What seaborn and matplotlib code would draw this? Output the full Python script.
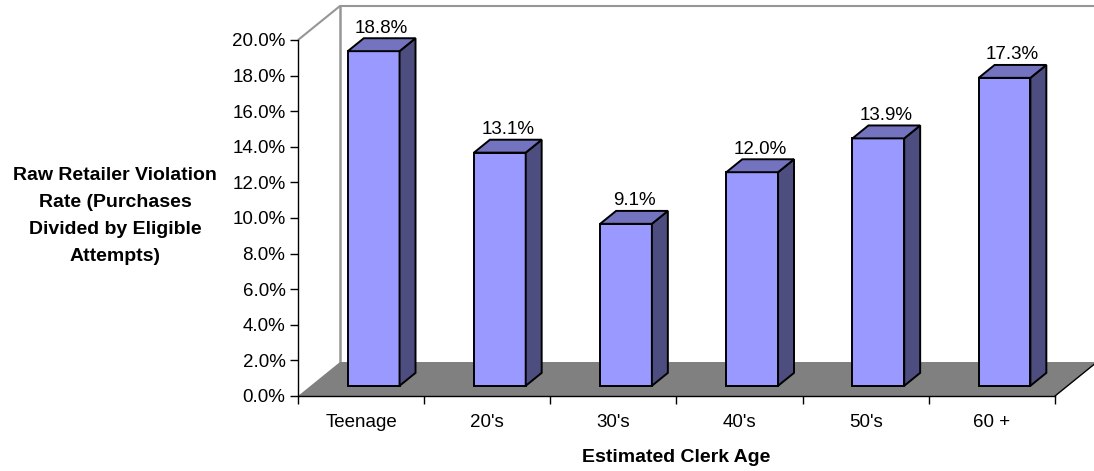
import numpy as np
import pandas as pd
import matplotlib
matplotlib.use("Agg")
import matplotlib.pyplot as plt
import seaborn as sns
from matplotlib.patches import Polygon

# Data
ages = ["Teenage", "20's", "30's", "40's", "50's", "60 +"]
rates = [18.8, 13.1, 9.1, 12.0, 13.9, 17.3]
y_ticks = [0, 2, 4, 6, 8, 10, 12, 14, 16, 18, 20]

FRONT = "#9999FF"
TOP = "#7373C0"
SIDE = "#4D4D80"
FLOOR = "#808080"
WALL_LINE = "#969696"

sns.set_theme(style="white")
plt.rcParams["font.family"] = ["Liberation Sans", "DejaVu Sans"]
plt.rcParams["text.color"] = "black"
plt.rcParams["xtick.color"] = "black"
plt.rcParams["ytick.color"] = "black"
plt.rcParams["xtick.labelcolor"] = "black"
plt.rcParams["ytick.labelcolor"] = "black"

fig = plt.figure(figsize=(10.94, 4.71), dpi=100)
ax = fig.add_axes([298 / 1094, 75 / 471, 757 / 1094, 356 / 471])
ax.patch.set_alpha(0)

df = pd.DataFrame({"age": ages, "rate": rates})
sns.barplot(data=df, x="age", y="rate", width=0.41, color=FRONT, saturation=1,
            edgecolor="black", linewidth=1.4, ax=ax, zorder=5)
ax.set_xlim(-0.5, 5.5)
ax.set_ylim(0, 20)

# depth vector of the 3-D box, in pixels, converted to data units
p0 = ax.transData.transform((0, 0))
ddx, ddy = ax.transData.inverted().transform(p0 + np.array([42.0, 34.0]))
f0, f1 = 0.30, 0.68          # front / back depth of the bars
fm = 0.5 * (f0 + f1)

def add_poly(pts, **kw):
    poly = Polygon(pts, closed=True, clip_on=False, **kw)
    ax.add_patch(poly)
    return poly

x_lo, x_hi = ax.get_xlim()
y_lo, y_hi = ax.get_ylim()

# back wall and side wall
add_poly([(x_lo + ddx, y_lo + ddy), (x_hi + ddx, y_lo + ddy),
          (x_hi + ddx, y_hi + ddy), (x_lo + ddx, y_hi + ddy)],
         facecolor="white", edgecolor="none", zorder=1)
add_poly([(x_lo, y_lo), (x_lo, y_hi), (x_lo + ddx, y_hi + ddy), (x_lo + ddx, y_lo + ddy)],
         facecolor="white", edgecolor="none", zorder=1)
ax.plot([x_lo, x_lo + ddx, x_hi + ddx], [y_hi, y_hi + ddy, y_hi + ddy],
        color=WALL_LINE, lw=1.5, clip_on=False, zorder=2, solid_capstyle="butt")
ax.plot([x_lo + ddx, x_lo + ddx], [y_lo + ddy, y_hi + ddy],
        color=WALL_LINE, lw=1.8, clip_on=False, zorder=2)

# floor
add_poly([(x_lo, y_lo), (x_hi, y_lo), (x_hi + ddx, y_lo + ddy), (x_lo + ddx, y_lo + ddy)],
         facecolor=FLOOR, edgecolor="none", zorder=3)
ax.plot([x_hi, x_hi + ddx], [y_lo, y_lo + ddy], color="black", lw=1.0,
        clip_on=False, zorder=3)

# 3-D bars: shift front faces back, then add side and top faces
for patch, val in zip(ax.patches[:len(rates)], rates):
    x0 = patch.get_x()
    w = patch.get_width()
    h = patch.get_height()
    x1 = x0 + w
    patch.set_x(x0 + f0 * ddx)
    patch.set_y(f0 * ddy)
    patch.set_clip_on(False)
    add_poly([(x1 + f0 * ddx, f0 * ddy), (x1 + f1 * ddx, f1 * ddy),
              (x1 + f1 * ddx, h + f1 * ddy), (x1 + f0 * ddx, h + f0 * ddy)],
             facecolor=SIDE, edgecolor="black", linewidth=1.4, joinstyle="miter", zorder=5)
    add_poly([(x0 + f0 * ddx, h + f0 * ddy), (x1 + f0 * ddx, h + f0 * ddy),
              (x1 + f1 * ddx, h + f1 * ddy), (x0 + f1 * ddx, h + f1 * ddy)],
             facecolor=TOP, edgecolor="black", linewidth=1.4, joinstyle="miter", zorder=5)
    ax.annotate(f"{val:.1f}%", xy=(x0 + w / 2 + fm * ddx, h + fm * ddy),
                xytext=(0, 12), textcoords="offset points", ha="center", va="center",
                fontsize=13.5, color="black", zorder=6, annotation_clip=False)

# axes styling
for side in ("top", "right"):
    ax.spines[side].set_visible(False)
for side in ("left", "bottom"):
    ax.spines[side].set_color("black")
    ax.spines[side].set_linewidth(1.0)
    ax.spines[side].set_zorder(7)

ax.set_yticks(y_ticks)
ax.set_yticklabels([f"{v:.1f}%" for v in y_ticks])
ax.tick_params(axis="y", length=6, width=1, direction="out", color="black",
               pad=3, labelsize=13.5, left=True)
ax.set_xticks(range(len(ages)))
ax.set_xticklabels(ages)
ax.set_xticks(np.arange(-0.5, len(ages)), minor=True)
ax.tick_params(axis="x", which="major", length=0, pad=13, labelsize=13.5)
ax.tick_params(axis="x", which="minor", length=6, width=1, direction="out",
               color="black", bottom=True)
ax.set_xlabel("")
ax.set_ylabel("")

fig.text(115 / 1094, 1 - 216 / 471,
         "Raw Retailer Violation\nRate (Purchases\nDivided by Eligible\nAttempts)",
         ha="center", va="center", fontsize=14, fontweight="bold", linespacing=1.78)
fig.text(676 / 1094, 1 - 457 / 471, "Estimated Clerk Age",
         ha="center", va="center", fontsize=14, fontweight="bold")

fig.savefig("out.png", dpi=100, facecolor="white")
